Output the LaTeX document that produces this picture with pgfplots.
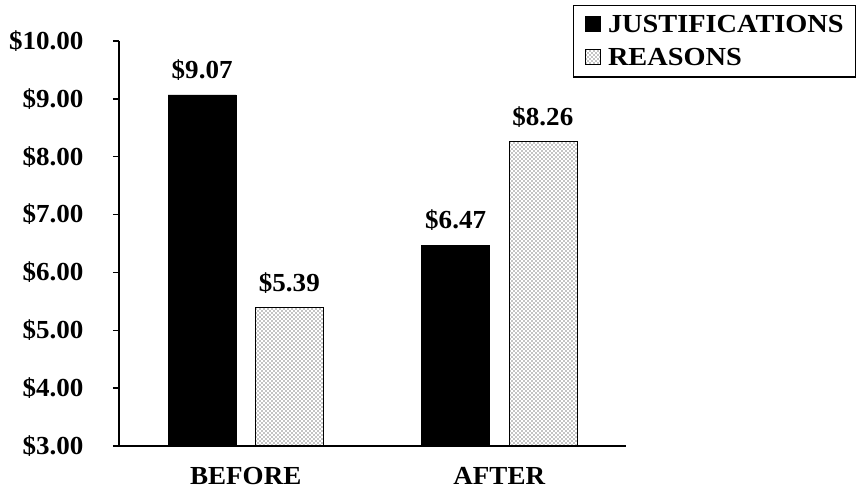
\documentclass[border=0pt]{standalone}
\usepackage{fontspec}
\setmainfont{Liberation Serif}[FakeStretch=1.04]
\newfontfamily\legfont{Liberation Serif}[FakeStretch=1.09]
\usepackage{pgfplots}
\pgfplotsset{compat=1.18}
\usetikzlibrary{patterns}
\pgfdeclarepatternformonly{mydots}{\pgfqpoint{-1bp}{-1bp}}{\pgfqpoint{5bp}{5bp}}{\pgfqpoint{4bp}{4bp}}{%
  \pgfpathcircle{\pgfqpoint{0bp}{0bp}}{0.7bp}%
  \pgfpathcircle{\pgfqpoint{2bp}{2bp}}{0.7bp}%
  \pgfusepath{fill}}
\begin{document}
\begin{tikzpicture}[font=\fontsize{26bp}{30bp}\selectfont\bfseries]
\path[use as bounding box] (-119bp,-47bp) rectangle (740bp,446bp);
\begin{axis}[
  at={(0,0)}, anchor=south west,
  scale only axis, width=507bp, height=405bp,
  xmin=-0.5, xmax=1.5, ymin=3, ymax=10,
  axis x line=bottom, axis y line=left,
  axis line style={-, line width=1.3bp, black},
  xtick={0,1}, xticklabels={BEFORE,AFTER},
  x tick style={draw=none},
  x tick label style={yshift=-12bp},
  ytick={3,4,5,6,7,8,9,10},
  yticklabels={\$3.00,\$4.00,\$5.00,\$6.00,\$7.00,\$8.00,\$9.00,\$10.00},
  y tick label style={xshift=-26bp},
  tick align=outside, major tick length=6bp,
  y tick style={line width=1.3bp, black},
  ybar, bar width=0.268,
  point meta=explicit symbolic,
  nodes near coords={\$\pgfplotspointmeta},
  every node near coord/.append style={yshift=11bp, font=\fontsize{26bp}{30bp}\selectfont\bfseries},
  legend style={at={(0.895,1.089)}, anchor=north west, draw=black, line width=1.3bp,
    font=\fontsize{26bp}{30bp}\selectfont\bfseries\legfont, inner xsep=5bp, inner ysep=6bp, row sep=6bp,
    nodes={inner ysep=4bp, inner xsep=7bp}},
  legend cell align=left,
  legend image code/.code={\path (-7bp,0bp); \draw[#1, line width=0.6bp] (0bp,-6.5bp) rectangle (15bp,8.5bp);},
]
\addplot[fill=black, draw=black, line width=0.6bp, bar shift=-0.172] table[meta=label] {
x y label
0 9.07 9.07
1 6.47 6.47
};
\addplot[pattern=mydots, draw=black, line width=0.6bp, bar shift=0.172] table[meta=label] {
x y label
0 5.39 5.39
1 8.26 8.26
};
\legend{JUSTIFICATIONS,REASONS}
\end{axis}
\end{tikzpicture}
\end{document}
